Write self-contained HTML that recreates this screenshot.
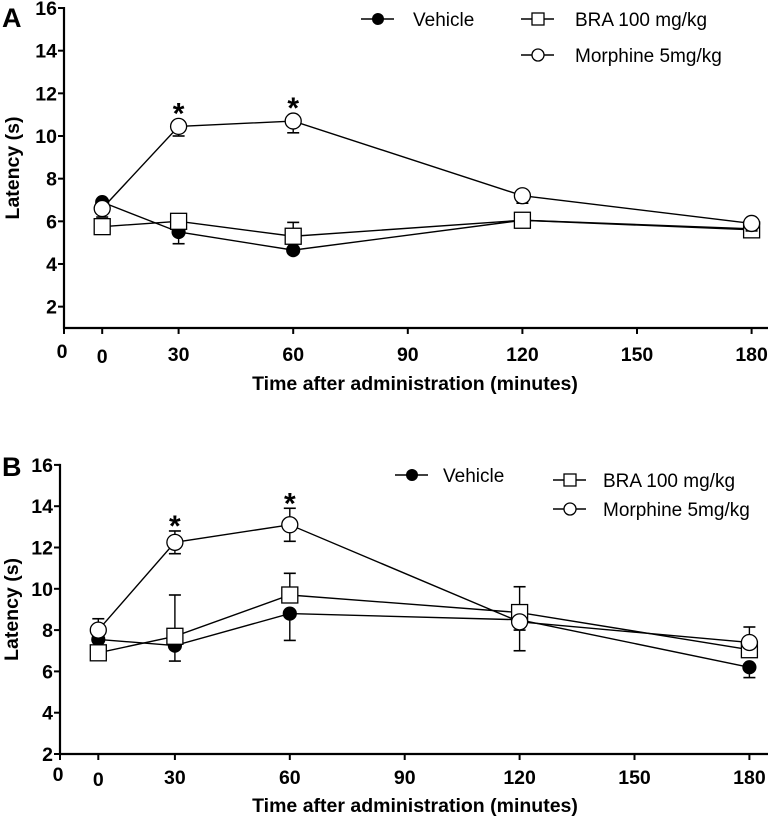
<!DOCTYPE html>
<html><head><meta charset="utf-8"><style>
html,body{margin:0;padding:0;background:#fff;}
svg{display:block;font-family:"Liberation Sans",Arial,sans-serif;}
</style></head><body>
<svg id="chart" width="772" height="817" viewBox="0 0 772 817"></svg>
<script>
// Shared categories (minutes); baseline 0 is drawn at an offset position
const times = [0, 30, 60, 120, 180];
const xTickValues = [0, 30, 60, 90, 120, 150, 180];
const xTickLabels = ["0", "30", "60", "90", "120", "150", "180"];
const yTickValues = [2, 4, 6, 8, 10, 12, 14, 16];
const seriesNames = ["Vehicle", "BRA 100 mg/kg", "Morphine 5mg/kg"];

// Panel A values
const aVehicle = [6.9, 5.5, 4.65, 6.05, 5.65];
const aVehicleErrHi = [0, 0, 0, 0, 0];
const aVehicleErrLo = [0, 0.55, 0, 0, 0];
const aBRA = [5.75, 6.0, 5.3, 6.05, 5.6];
const aBRAErrHi = [0, 0, 0.65, 0.35, 0];
const aBRAErrLo = [0, 0, 0, 0.35, 0];
const aMorphine = [6.6, 10.45, 10.7, 7.2, 5.9];
const aMorphineErrHi = [0, 0, 0, 0, 0];
const aMorphineErrLo = [0.4, 0.45, 0.55, 0.35, 0.35];
const aStars = [30, 60];

// Panel B values
const bVehicle = [7.55, 7.25, 8.8, 8.5, 6.2];
const bVehicleErrHi = [0, 0, 0, 0, 0];
const bVehicleErrLo = [0, 0.75, 1.3, 1.5, 0.5];
const bBRA = [6.9, 7.7, 9.7, 8.85, 7.05];
const bBRAErrHi = [0, 2.0, 1.05, 1.25, 0];
const bBRAErrLo = [0, 0, 0, 0, 0];
const bMorphine = [8.0, 12.25, 13.1, 8.4, 7.4];
const bMorphineErrHi = [0.55, 0.55, 0.8, 0, 0.75];
const bMorphineErrLo = [0, 0.55, 0.8, 0.4, 0];
const bStars = [30, 60];

const NS = "http://www.w3.org/2000/svg";
const svg = document.getElementById("chart");
function mk(tag, attrs, parent) {
  const e = document.createElementNS(NS, tag);
  for (const k in attrs) e.setAttribute(k, attrs[k]);
  (parent || svg).appendChild(e);
  return e;
}

function panel(cfg) {
  const g = mk("g", {});
  
  
  const xs = t => cfg.x0 + t * cfg.pxPerMin;
  const xp = t => xs(t === 0 ? 10 : t);
  const ys = v => cfg.yZero - v * cfg.pxPerUnit;
  const yBottom = ys(cfg.yMin);
  const L = mk("text", {x: cfg.letterX, y: cfg.letterY, "font-size": 27, "font-weight": "bold"}, g);
  L.textContent = cfg.letter;
  
  
  const ya = mk("line", {x1: cfg.x0, y1: ys(16) - 1, x2: cfg.x0, y2: yBottom + 1, stroke: "#000", "stroke-width": 2.2}, g);
  
  
  yTickValues.forEach(v => {
    mk("line", {x1: cfg.x0 - 6, y1: ys(v), x2: cfg.x0, y2: ys(v), stroke: "#000", "stroke-width": 2}, g);
    const t = mk("text", {x: cfg.x0 - 7, y: ys(v) + 7, "font-size": 19.5, "font-weight": "bold", "text-anchor": "end"}, g);
    t.textContent = v;
    
    
  });
  const xa = mk("line", {x1: cfg.x0 - 1, y1: yBottom, x2: cfg.xEnd, y2: yBottom, stroke: "#000", "stroke-width": 2.2}, g);
  
  
  xTickValues.forEach((v, i) => {
    mk("line", {x1: xs(v), y1: yBottom, x2: xs(v), y2: yBottom + 6, stroke: "#000", "stroke-width": 2}, g);
    const t = mk("text", {x: xs(v) - (i === 0 ? 2 : 0), y: yBottom + cfg.tickDy - (i === 0 ? 3 : 0), "font-size": 19.5, "font-weight": "bold", "text-anchor": "middle"}, g);
    t.textContent = xTickLabels[i];
    
    
  });
  mk("line", {x1: xp(0), y1: yBottom, x2: xp(0), y2: yBottom + 6, stroke: "#000", "stroke-width": 2}, g);
  const z = mk("text", {x: xp(0), y: yBottom + cfg.tickDy + 2, "font-size": 19.5, "font-weight": "bold", "text-anchor": "middle"}, g);
  z.textContent = "0";
  
  
  const xt = mk("text", {x: 415, y: cfg.xTitleY, "font-size": 19.5, "font-weight": "bold", "text-anchor": "middle"}, g);
  xt.textContent = "Time after administration (minutes)";
  
  
  const yc = (ys(16) + yBottom) / 2;
  const yt = mk("text", {x: 0, y: 0, "font-size": 19.5, "font-weight": "bold", "text-anchor": "middle", transform: `translate(${cfg.yTitleX},${yc}) rotate(-90)`}, g);
  yt.textContent = "Latency (s)";
  
  

  function marker(kind, cx, cy, parent) {
    if (kind === 0) return mk("circle", {cx, cy, r: 6.5, fill: "#000", stroke: "#000", "stroke-width": 1.2}, parent);
    if (kind === 1) return mk("rect", {x: cx - 8, y: cy - 8, width: 16, height: 16, fill: "#fff", stroke: "#000", "stroke-width": 1.3}, parent);
    return mk("circle", {cx, cy, r: 8, fill: "#fff", stroke: "#000", "stroke-width": 1.3}, parent);
  }
  const names = ["vehicle", "bra", "morphine"];
  cfg.series.forEach((s, k) => {
    const sg = mk("g", {}, g);
    
    
    const pts = times.map((t, i) => xp(t) + "," + ys(s.v[i])).join(" ");
    const pl = mk("polyline", {points: pts, fill: "none", stroke: "#000", "stroke-width": 1.4}, sg);
    
    
    times.forEach((t, i) => {
      const cx = xp(t), cy = ys(s.v[i]);
      [[s.hi[i], 1], [s.lo[i], -1]].forEach(([e, d]) => {
        if (e > 0) {
          const ey = ys(s.v[i] + d * e);
          mk("line", {x1: cx, y1: cy, x2: cx, y2: ey, stroke: "#000", "stroke-width": 1.4}, sg);
          const cap = mk("line", {x1: cx - 6, y1: ey, x2: cx + 6, y2: ey, stroke: "#000", "stroke-width": 1.6}, sg);
          
          
        }
      });
      const m = marker(k, cx, cy, sg);
      
      
    });
  });
  cfg.stars.forEach(t => {
    const i = times.indexOf(t);
    const top = Math.min(ys(cfg.series[2].v[i] + cfg.series[2].hi[i]), ys(cfg.series[2].v[i]) - 8);
    const st = mk("text", {x: xp(t), y: top + 5, "font-size": 30, "font-weight": "bold", "text-anchor": "middle"}, g);
    st.textContent = "*";
    
    
  });
  const lg = mk("g", {}, g);
  
  
  cfg.legend.forEach((p, k) => {
    const eg = mk("g", {}, lg);
    
    
    mk("line", {x1: p.x, y1: p.y, x2: p.x + 33, y2: p.y, stroke: "#000", "stroke-width": 1.4}, eg);
    if (k === 0) mk("circle", {cx: p.x + 17, cy: p.y, r: 6, fill: "#000"}, eg);
    else if (k === 1) mk("rect", {x: p.x + 11, y: p.y - 6, width: 12, height: 12, fill: "#fff", stroke: "#000", "stroke-width": 1.3}, eg);
    else mk("circle", {cx: p.x + 17, cy: p.y, r: 6, fill: "#fff", stroke: "#000", "stroke-width": 1.3}, eg);
    const tx = mk("text", {x: p.tx, y: p.y + 7, "font-size": 19}, eg);
    tx.textContent = seriesNames[k];
  });
}

panel({
  name: "panel-a", letter: "A", letterX: 2, letterY: 27,
  x0: 64, xEnd: 768, pxPerMin: 3.82, yZero: 349.3, pxPerUnit: 21.33, yMin: 1,
  tickDy: 33, xTitleY: 390, yTitleX: 19,
  series: [
    {v: aVehicle, hi: aVehicleErrHi, lo: aVehicleErrLo},
    {v: aBRA, hi: aBRAErrHi, lo: aBRAErrLo},
    {v: aMorphine, hi: aMorphineErrHi, lo: aMorphineErrLo}
  ],
  stars: aStars,
  legend: [{x: 361, y: 19, tx: 413}, {x: 521, y: 19, tx: 575}, {x: 521, y: 55, tx: 575}]
});
panel({
  name: "panel-b", letter: "B", letterX: 2, letterY: 476,
  x0: 60, xEnd: 768, pxPerMin: 3.83, yZero: 795.3, pxPerUnit: 20.65, yMin: 2,
  tickDy: 30, xTitleY: 812, yTitleX: 18,
  series: [
    {v: bVehicle, hi: bVehicleErrHi, lo: bVehicleErrLo},
    {v: bBRA, hi: bBRAErrHi, lo: bBRAErrLo},
    {v: bMorphine, hi: bMorphineErrHi, lo: bMorphineErrLo}
  ],
  stars: bStars,
  legend: [{x: 395, y: 475, tx: 443}, {x: 553, y: 480, tx: 603}, {x: 553, y: 509, tx: 603}]
});
</script>
</body></html>
